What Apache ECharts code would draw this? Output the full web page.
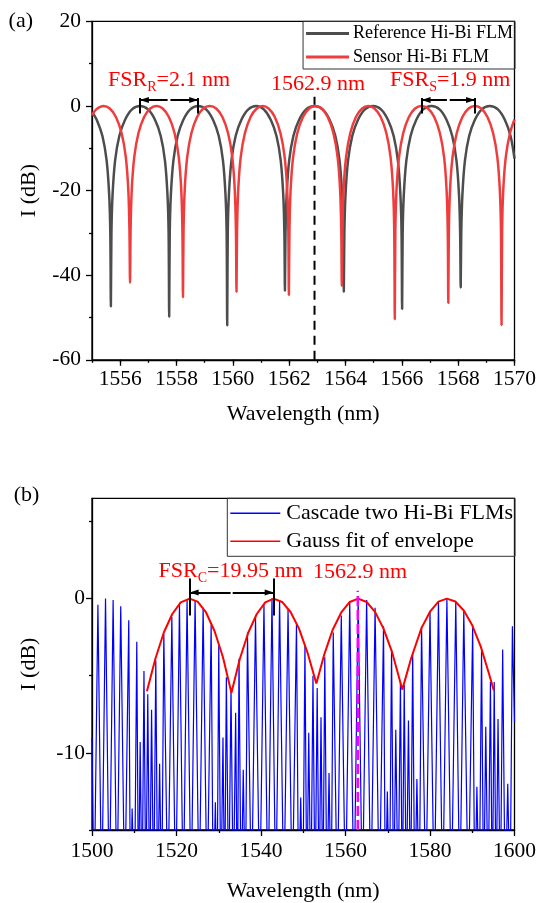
<!DOCTYPE html>
<html><head><meta charset="utf-8">
<script src="https://cdn.jsdelivr.net/npm/echarts@6/dist/echarts.min.js"></script>
<style>html,body{margin:0;padding:0;background:#fff}#c{width:539px;height:903px}</style>
</head><body><div id="c"></div>
<script>
// ---------- data ----------
const refSpectrum = [
[1555.00,-1.4],[1555.17,-3.3],[1555.37,-7.1],[1555.52,-12.9],[1555.61,-21],[1555.65,-30],[1555.67,-47.4],
[1555.69,-30],[1555.73,-21],[1555.82,-12.9],[1555.97,-7.1],[1556.17,-3.3],[1556.42,-0.8],[1556.70,0],[1556.99,-0.8],[1557.24,-3.3],[1557.44,-7.1],[1557.59,-12.9],[1557.68,-21],[1557.72,-30],[1557.74,-49.8],
[1557.76,-30],[1557.80,-21],[1557.89,-12.9],[1558.04,-7.1],[1558.24,-3.3],[1558.49,-0.8],[1558.77,0],[1559.05,-0.8],[1559.30,-3.3],[1559.50,-7.1],[1559.65,-12.9],[1559.74,-21],[1559.78,-30],[1559.80,-51.9],
[1559.82,-30],[1559.86,-21],[1559.95,-12.9],[1560.10,-7.1],[1560.30,-3.3],[1560.55,-0.8],[1560.83,0],[1561.10,-0.8],[1561.35,-3.3],[1561.55,-7.1],[1561.70,-12.9],[1561.79,-21],[1561.83,-30],[1561.85,-43.7],
[1561.87,-30],[1561.91,-21],[1562.00,-12.9],[1562.15,-7.1],[1562.35,-3.3],[1562.60,-0.8],[1562.90,0],[1563.19,-0.8],[1563.44,-3.3],[1563.64,-7.1],[1563.79,-12.9],[1563.88,-21],[1563.92,-30],[1563.94,-43.9],
[1563.96,-30],[1564.00,-21],[1564.09,-12.9],[1564.24,-7.1],[1564.44,-3.3],[1564.69,-0.8],[1564.98,0],[1565.26,-0.8],[1565.51,-3.3],[1565.71,-7.1],[1565.86,-12.9],[1565.95,-21],[1565.99,-30],[1566.01,-48.0],
[1566.03,-30],[1566.07,-21],[1566.16,-12.9],[1566.31,-7.1],[1566.51,-3.3],[1566.76,-0.8],[1567.05,0],[1567.34,-0.8],[1567.59,-3.3],[1567.79,-7.1],[1567.94,-12.9],[1568.03,-21],[1568.07,-30],[1568.09,-42.9],
[1568.11,-30],[1568.15,-21],[1568.24,-12.9],[1568.39,-7.1],[1568.59,-3.3],[1568.84,-0.8],[1569.12,0],[1569.41,-0.8],[1569.66,-3.3],[1569.86,-7.1],[1570.00,-12.4]
];
const sensorSpectrum = [
[1555.00,-2.2],[1555.15,-0.8],[1555.41,0],[1555.63,-0.6],[1555.85,-2.6],[1556.05,-6.4],[1556.20,-12.1],[1556.29,-20],[1556.33,-29.5],[1556.35,-41.8],
[1556.37,-29.5],[1556.41,-20],[1556.50,-12.1],[1556.65,-6.4],[1556.85,-2.6],[1557.07,-0.6],[1557.29,0],[1557.51,-0.6],[1557.73,-2.6],[1557.93,-6.4],[1558.08,-12.1],[1558.17,-20],[1558.21,-29.5],[1558.23,-45.2],
[1558.25,-29.5],[1558.29,-20],[1558.38,-12.1],[1558.53,-6.4],[1558.73,-2.6],[1558.95,-0.6],[1559.18,0],[1559.41,-0.6],[1559.63,-2.6],[1559.83,-6.4],[1559.98,-12.1],[1560.07,-20],[1560.11,-29.5],[1560.13,-43.9],
[1560.15,-29.5],[1560.19,-20],[1560.28,-12.1],[1560.43,-6.4],[1560.63,-2.6],[1560.85,-0.6],[1561.06,0],[1561.27,-0.6],[1561.49,-2.6],[1561.69,-6.4],[1561.84,-12.1],[1561.93,-20],[1561.97,-29.5],[1561.99,-44.7],
[1562.01,-29.5],[1562.05,-20],[1562.14,-12.1],[1562.29,-6.4],[1562.49,-2.6],[1562.71,-0.6],[1562.93,0],[1563.15,-0.6],[1563.37,-2.6],[1563.57,-6.4],[1563.72,-12.1],[1563.81,-20],[1563.85,-29.5],[1563.87,-42.5],
[1563.89,-29.5],[1563.93,-20],[1564.02,-12.1],[1564.17,-6.4],[1564.37,-2.6],[1564.59,-0.6],[1564.81,0],[1565.03,-0.6],[1565.25,-2.6],[1565.45,-6.4],[1565.60,-12.1],[1565.69,-20],[1565.73,-29.5],[1565.75,-50.4],
[1565.77,-29.5],[1565.81,-20],[1565.90,-12.1],[1566.05,-6.4],[1566.25,-2.6],[1566.47,-0.6],[1566.70,0],[1566.93,-0.6],[1567.15,-2.6],[1567.35,-6.4],[1567.50,-12.1],[1567.59,-20],[1567.63,-29.5],[1567.65,-46.6],
[1567.67,-29.5],[1567.71,-20],[1567.80,-12.1],[1567.95,-6.4],[1568.15,-2.6],[1568.37,-0.6],[1568.60,0],[1568.82,-0.6],[1569.04,-2.6],[1569.24,-6.4],[1569.39,-12.1],[1569.48,-20],[1569.52,-29.5],[1569.54,-51.8],
[1569.56,-29.5],[1569.60,-20],[1569.69,-12.1],[1569.84,-6.4],[1570.00,-3.2]
];
const cascadeSpectrum = [
[1500.0,-9.0],[1500.5,-20],[1501.4,-0.4],[1502.3,-20],[1503.2,0],[1504.1,-20],[1505.0,-0.1],[1505.9,-20],
[1506.8,-0.5],[1507.75,-20],[1508.7,-1.4],[1509.1,-20],[1509.5,-13.6],[1510.05,-20],[1510.6,-2.8],[1511.0,-20],
[1511.4,-9.3],[1511.85,-20],[1512.3,-4.7],[1512.75,-20],[1513.2,-6.2],[1513.65,-20],[1514.1,-7.2],[1514.6,-20],
[1515.1,-4.0],[1515.55,-20],[1516.0,-10.7],[1516.5,-20],[1517.0,-2.3],[1517.95,-20],[1518.9,-1.2],[1519.8,-20],
[1520.7,-0.4],[1521.6,-20],[1522.5,-0.1],[1523.45,-20],[1524.4,-0.1],[1525.35,-20],[1526.3,-0.6],[1527.25,-20],
[1528.2,-1.7],[1528.7,-20],[1529.2,-13.2],[1529.6,-20],[1530.0,-3.0],[1530.5,-20],[1531.0,-9.0],[1531.4,-20],
[1531.8,-5.1],[1532.35,-20],[1532.9,-5.8],[1533.45,-20],[1534.0,-7.4],[1534.4,-20],[1534.8,-3.9],[1535.3,-20],
[1535.8,-11.1],[1536.3,-20],[1536.8,-2.2],[1537.75,-20],[1538.7,-1.2],[1539.7,-20],[1540.7,-0.4],[1541.65,-20],
[1542.6,0],[1543.5,-20],[1544.4,-0.1],[1545.4,-20],[1546.4,-0.7],[1547.4,-20],[1548.4,-1.6],[1548.9,-20],
[1549.4,-12.9],[1549.9,-20],[1550.4,-3.0],[1550.85,-20],[1551.3,-8.7],[1551.8,-20],[1552.3,-5.0],[1552.8,-20],
[1553.3,-5.8],[1553.75,-20],[1554.2,-7.7],[1554.65,-20],[1555.1,-3.8],[1555.6,-20],[1556.1,-11.3],[1556.6,-20],
[1557.1,-2.2],[1558.05,-20],[1559.0,-1.1],[1560.0,-20],[1561.0,-0.2],[1562.0,-20],[1563.0,0],[1564.0,-20],
[1565.0,-0.1],[1566.0,-20],[1567.0,-0.6],[1568.0,-20],[1569.0,-1.8],[1569.45,-20],[1569.9,-12.5],[1570.4,-20],
[1570.9,-3.3],[1571.4,-20],[1571.9,-8.5],[1572.45,-20],[1573.0,-5.4],[1573.45,-20],[1573.9,-5.6],[1574.4,-20],
[1574.9,-7.9],[1575.4,-20],[1575.9,-3.5],[1576.4,-20],[1576.9,-11.7],[1577.45,-20],[1578.0,-1.8],[1579.0,-20],
[1580.0,-0.8],[1581.0,-20],[1582.0,-0.15],[1583.0,-20],[1584.0,0],[1585.05,-20],[1586.1,-0.2],[1587.05,-20],
[1588.0,-0.8],[1589.05,-20],[1590.1,-1.8],[1590.6,-20],[1591.1,-12.2],[1591.65,-20],[1592.2,-3.4],[1592.7,-20],
[1593.2,-8.3],[1593.75,-20],[1594.3,-5.4],[1594.75,-20],[1595.2,-5.4],[1595.65,-20],[1596.1,-7.8],[1596.65,-20],
[1597.2,-3.3],[1597.8,-20],[1598.4,-12.0],[1598.95,-20],[1599.5,-1.8],[1600.0,-8.0]
];
const gaussEnvelope = [
[1513.0,-6.0],[1515.0,-3.9],[1517.0,-2.2],[1519.0,-1.0],[1521.0,-0.25],[1523.1,0],[1525.0,-0.2],[1527.0,-0.9],[1529.0,-2.1],[1531.0,-3.8],[1533.0,-6.1],
[1535.0,-3.9],[1537.0,-2.2],[1539.0,-1.0],[1541.0,-0.25],[1543.0,0],[1545.0,-0.22],[1547.0,-0.87],[1549.0,-1.95],[1551.0,-3.5],[1553.1,-5.5],
[1555.0,-3.6],[1557.0,-2.0],[1559.0,-0.9],[1561.0,-0.22],[1563.0,0],[1565.0,-0.22],[1567.0,-0.86],[1569.0,-1.95],[1571.0,-3.45],[1573.45,-5.9],
[1575.5,-3.9],[1578.0,-1.9],[1580.0,-0.85],[1582.0,-0.2],[1584.0,0],[1586.0,-0.19],[1588.0,-0.77],[1590.0,-1.73],[1592.0,-3.1],[1594.0,-4.9],[1595.1,-5.95]
];
const centerWavelength = 1562.9;
const fsrRefPeaks = [1556.70, 1558.77];
const fsrSensorPeaks = [1566.70, 1568.60];
const fsrCascadePeaks = [1523.1, 1543.0];
const topXTickLabels = [1556, 1558, 1560, 1562, 1564, 1566, 1568, 1570];
const bottomYTickLabels = [-10, 0];
const bottomYMinorTicks = [-15, -5, 5];

// ---------- chart ----------
const FONT = '"Liberation Serif", "Times New Roman", serif';
const AX = {color: '#000', width: 1.3};
const plain = v => String(v);
const tickFont = {fontFamily: FONT, fontSize: 21.5, color: '#000', formatter: plain};
const nameFont = {fontFamily: FONT, fontSize: 22, color: '#000'};
const chart = echarts.init(document.getElementById('c'));

function arrowPair(p1, p2, y, gap) {
  const mid = (p1 + p2) / 2;
  return [
    [{coord: [p1, y], symbol: 'triangle', symbolSize: [6, 9], symbolOffset: [0, 4.5]}, {coord: [mid - gap, y], symbol: 'none'}],
    [{coord: [mid + gap, y], symbol: 'none'}, {coord: [p2, y], symbol: 'triangle', symbolSize: [6, 9], symbolOffset: [0, 4.5]}]
  ];
}
function vtick(x, y1, y2) {
  return [{coord: [x, y1], symbol: 'none'}, {coord: [x, y2], symbol: 'none'}];
}
const mlBase = {silent: true, animation: false, label: {show: false}, emphasis: {disabled: true},
  lineStyle: {color: '#000', width: 2, type: 'solid'}};

const redRich = (txt, sub, rest) => ({
  text: '{m|' + txt + '}' + (sub ? '{s|' + sub + '}{m|' + rest + '}' : ''),
  rich: {
    m: {fontFamily: FONT, fontSize: 22, lineHeight: 28, fill: '#ff0000', verticalAlign: 'middle'},
    s: {fontFamily: FONT, fontSize: 14, lineHeight: 14, fill: '#ff0000', verticalAlign: 'bottom'}
  },
  fill: '#ff0000'
});

const option = {
  animation: false,
  backgroundColor: '#fff',
  grid: [
    {left: 92, right: 24, top: 21.4, height: 338.4, show: true, borderColor: '#000', borderWidth: 1.3},
    {left: 92, right: 24, top: 498.3, height: 336.7, show: true, borderColor: '#000', borderWidth: 1.3}
  ],
  legend: [
    {data: ['Reference Hi-Bi FLM', 'Sensor Hi-Bi FLM'], orient: 'vertical', right: 24, top: 21.4,
     icon: 'rect', itemWidth: 43, itemHeight: 3, itemGap: 3.6, padding: [2, 2, 2, 3],
     borderColor: '#333', borderWidth: 1, selectedMode: false,
     textStyle: {fontFamily: FONT, fontSize: 18, lineHeight: 20, color: '#000', padding: [0, 0, 0, -1]}},
    {data: ['Cascade two Hi-Bi FLMs', 'Gauss fit of envelope'], orient: 'vertical', right: 24, top: 498.3,
     icon: 'rect', itemWidth: 50, itemHeight: 1.6, itemGap: 4, padding: [3, 2, 3, 3],
     borderColor: '#333', borderWidth: 1, selectedMode: false,
     textStyle: {fontFamily: FONT, fontSize: 22, lineHeight: 24, color: '#000', padding: [0, 0, 0, 1]}}
  ],
  xAxis: [
    {gridIndex: 0, type: 'value', position: 'bottom', min: 1555, max: 1570, interval: 1,
     axisLine: {show: true, onZero: false, lineStyle: AX}, axisTick: {show: true, length: 3, lineStyle: AX},
     axisLabel: {show: false}, splitLine: {show: false},
     name: 'Wavelength (nm)', nameLocation: 'middle', nameGap: 43, nameTextStyle: nameFont},
    {gridIndex: 0, type: 'value', position: 'bottom', offset: 0, min: 1555, max: 1570,
     axisLine: {show: false, onZero: false}, axisTick: {show: true, length: 6, lineStyle: AX, customValues: topXTickLabels},
     axisLabel: Object.assign({customValues: topXTickLabels, margin: 9}, tickFont), splitLine: {show: false}},
    {gridIndex: 1, type: 'value', position: 'bottom', min: 1500, max: 1600, interval: 20,
     axisLine: {show: true, onZero: false, lineStyle: AX}, axisTick: {show: true, length: 6, lineStyle: AX},
     minorTick: {show: true, splitNumber: 2, length: 3, lineStyle: AX}, minorSplitLine: {show: false},
     axisLabel: Object.assign({margin: 10.5}, tickFont), splitLine: {show: false},
     name: 'Wavelength (nm)', nameLocation: 'middle', nameGap: 50, nameTextStyle: nameFont}
  ],
  yAxis: [
    {gridIndex: 0, type: 'value', position: 'left', min: -60, max: 20, interval: 20,
     axisLine: {show: true, onZero: false, lineStyle: AX}, axisTick: {show: true, length: 6, lineStyle: AX},
     minorTick: {show: true, splitNumber: 2, length: 3, lineStyle: AX}, minorSplitLine: {show: false},
     axisLabel: Object.assign({margin: 11}, tickFont), splitLine: {show: false},
     name: 'I (dB)', nameLocation: 'middle', nameRotate: 90, nameGap: 52, nameTextStyle: nameFont},
    {gridIndex: 1, type: 'value', position: 'left', min: -15, max: 6.5,
     axisLine: {show: true, onZero: false, lineStyle: AX},
     axisTick: {show: true, length: 6, lineStyle: AX, customValues: bottomYTickLabels},
     axisLabel: Object.assign({customValues: bottomYTickLabels, margin: 7}, tickFont), splitLine: {show: false},
     name: 'I (dB)', nameLocation: 'middle', nameRotate: 90, nameGap: 52, nameTextStyle: nameFont},
    {gridIndex: 1, type: 'value', position: 'left', offset: 0, min: -15, max: 6.5,
     axisLine: {show: false, onZero: false},
     axisTick: {show: true, length: 3, lineStyle: AX, customValues: bottomYMinorTicks},
     axisLabel: {show: false}, splitLine: {show: false}}
  ],
  series: [
    {name: 'Reference Hi-Bi FLM', type: 'line', xAxisIndex: 0, yAxisIndex: 0, data: refSpectrum,
     symbol: 'none', smooth: 0.3, lineStyle: {color: '#4d4d4d', width: 2.5}, itemStyle: {color: '#4d4d4d'}, z: 3, silent: true},
    {name: 'Sensor Hi-Bi FLM', type: 'line', xAxisIndex: 0, yAxisIndex: 0, data: sensorSpectrum,
     symbol: 'none', smooth: 0.3, lineStyle: {color: '#ef3d3d', width: 2.5}, itemStyle: {color: '#ef3d3d'}, z: 4, silent: true},
    {type: 'line', xAxisIndex: 0, yAxisIndex: 0, data: [[centerWavelength, -60], [centerWavelength, 2.2]],
     symbol: 'none', lineStyle: {color: '#000', width: 2, type: [9, 6]}, z: 5, silent: true,
     markLine: Object.assign({}, mlBase, {data: [
       ...arrowPair(fsrRefPeaks[0], fsrRefPeaks[1], 1.4, 0.05),
       vtick(fsrRefPeaks[0], 1.9, -1.8), vtick(fsrRefPeaks[1], 1.9, -1.8),
       ...arrowPair(fsrSensorPeaks[0], fsrSensorPeaks[1], 1.4, 0.05),
       vtick(fsrSensorPeaks[0], 1.9, -1.8), vtick(fsrSensorPeaks[1], 1.9, -1.8)
     ]})},
    {name: 'Cascade two Hi-Bi FLMs', type: 'line', xAxisIndex: 2, yAxisIndex: 1, data: cascadeSpectrum,
     symbol: 'none', lineStyle: {color: '#0000ff', width: 1.2}, itemStyle: {color: '#0000ff'}, z: 3, silent: true},
    {name: 'Gauss fit of envelope', type: 'line', xAxisIndex: 2, yAxisIndex: 1, data: gaussEnvelope,
     symbol: 'none', lineStyle: {color: '#ff0000', width: 2}, itemStyle: {color: '#ff0000'}, z: 4, silent: true},
    {type: 'line', xAxisIndex: 2, yAxisIndex: 1, data: [[centerWavelength, -15], [centerWavelength, 0.5]],
     symbol: 'none', lineStyle: {color: '#ff00ff', width: 2.5, type: [10, 4]}, z: 5, silent: true,
     markLine: Object.assign({}, mlBase, {data: [
       ...arrowPair(fsrCascadePeaks[0], fsrCascadePeaks[1], 0.4, 0.25),
       vtick(fsrCascadePeaks[0], 1.3, -1.1), vtick(fsrCascadePeaks[1], 1.3, -1.1)
     ]})}
  ],
  graphic: [
    {type: 'text', x: 8.6, y: 21.7, style: {text: '(a)', fontFamily: FONT, fontSize: 22, fill: '#000', verticalAlign: 'middle'}},
    {type: 'text', x: 13.7, y: 495, style: {text: '(b)', fontFamily: FONT, fontSize: 22, fill: '#000', verticalAlign: 'middle'}},
    {type: 'text', x: 108, y: 66.7, style: redRich('FSR', 'R', '=2.1 nm')},
    {type: 'text', x: 271, y: 70, style: redRich('1562.9 nm')},
    {type: 'text', x: 390, y: 66.7, style: redRich('FSR', 'S', '=1.9 nm')},
    {type: 'text', x: 158.6, y: 557.7, style: redRich('FSR', 'C', '=19.95 nm')},
    {type: 'text', x: 313, y: 558.4, style: redRich('1562.9 nm')}
  ]
};
chart.setOption(option);
</script>
</body></html>
